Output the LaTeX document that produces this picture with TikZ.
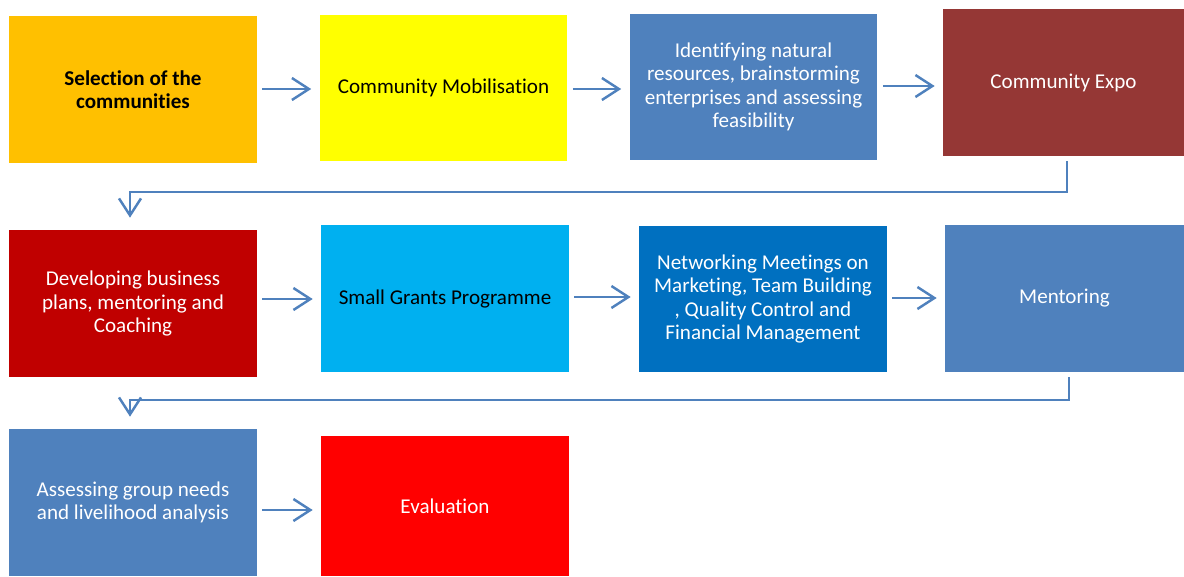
\documentclass[tikz,border=0pt]{standalone}
\usepackage{fontspec}
\setmainfont[Ligatures=NoCommon]{Carlito}
\usetikzlibrary{arrows.meta}

\definecolor{stepOrange}{HTML}{FFC000}
\definecolor{stepYellow}{HTML}{FFFF00}
\definecolor{stepBlue}{HTML}{4F81BD}
\definecolor{stepMaroon}{HTML}{953735}
\definecolor{stepDarkRed}{HTML}{C00000}
\definecolor{stepCyan}{HTML}{00B0F0}
\definecolor{stepMidBlue}{HTML}{0070C0}
\definecolor{stepRed}{HTML}{FF0000}

\tikzset{
	stage/.style={rectangle, inner sep=0pt, minimum width=4.96cm, minimum height=2.94cm,
		align=center, text=white, font=\fontsize{12}{13.3}\selectfont},
	flow/.style={stepBlue, line width=1.4pt, shorten <=0.1cm, shorten >=0.16cm,
		-{Straight Barb[length=0.34cm, width=0.44cm, line width=1.4pt]}}
}

\begin{document}
\begin{tikzpicture}[x=0.02cm, y=-0.02cm]
				\useasboundingbox (0,0) rectangle (1184,576);
				% First row of stages
				\node[stage, fill=stepOrange, text=black, font=\fontsize{12}{13.3}\selectfont\bfseries] (select) at (133,89.5) {Selection of the\\communities};
				\node[stage, fill=stepYellow, text=black] (mobilise) at (443.5,88) {Community Mobilisation};
				\node[stage, fill=stepBlue] (identify) at (753.5,87) {Identifying natural\\resources, brainstorming\\enterprises and assessing\\feasibility};
				\node[stage, fill=stepMaroon, minimum width=4.82cm] (expo) at (1063.5,82.5) {Community Expo};
				
				% Second row of stages
				\node[stage, fill=stepDarkRed] (plans) at (133,303.5) {Developing business\\plans, mentoring and\\Coaching};
				\node[stage, fill=stepCyan, text=black] (grants) at (445,298.5) {Small Grants Programme};
				\node[stage, fill=stepMidBlue, minimum height=2.92cm] (network) at (763,299) {Networking Meetings on\\Marketing, Team Building\\, Quality Control and\\Financial Management};
				\node[stage, fill=stepBlue, minimum width=4.78cm] (mentor) at (1064.5,298.5) {Mentoring};
				
				% Third row of stages
				\node[stage, fill=stepBlue] (assess) at (133,502.5) {Assessing group needs\\and livelihood analysis};
				\node[stage, fill=stepRed, minimum height=2.8cm] (evaluate) at (445,506) {Evaluation};
				
				% Arrows along each row
				\draw[flow] (select.east |- 0,89) -- (mobilise.west |- 0,89);
				\draw[flow] (mobilise.east |- 0,89) -- (identify.west |- 0,89);
				\draw[flow] (identify.east |- 0,86) -- (expo.west |- 0,86);
				\draw[flow] (plans.east |- 0,299) -- (grants.west |- 0,299);
				\draw[flow] (grants.east |- 0,297) -- (network.west |- 0,297);
				\draw[flow] (network.east |- 0,298) -- (mentor.west |- 0,298);
				\draw[flow] (assess.east |- 0,510) -- (evaluate.west |- 0,510);
				
				% Elbow arrows down to the next row
				\coordinate (turnA) at (1067,192);
				\coordinate (turnB) at (1069,400);
				\draw[flow, shorten >=0.24cm] (expo.south -| turnA) -- (turnA) -| (plans.north -| 130,0);
				\draw[flow, shorten >=0.24cm] (mentor.south -| turnB) -- (turnB) -| (assess.north -| 130,0);
			\end{tikzpicture}
\end{document}
